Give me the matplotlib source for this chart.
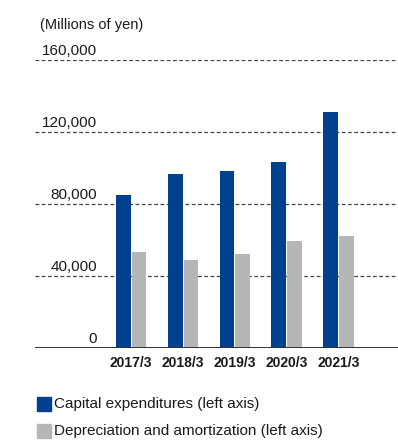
import matplotlib
matplotlib.use("Agg")
import matplotlib.pyplot as plt
from matplotlib.patches import Rectangle

plt.rcParams['font.family'] = ['Liberation Sans', 'DejaVu Sans']

years = ["2017/3", "2018/3", "2019/3", "2020/3", "2021/3"]
capex = [85000, 96700, 98300, 103300, 131100]
depreciation = [53300, 48900, 52200, 59400, 62200]
y_ticks = [0, 40000, 80000, 120000, 160000]
y_tick_labels = ["0", "40,000", "80,000", "120,000", "160,000"]
series_names = ["Capital expenditures (left axis)", "Depreciation and amortization (left axis)"]

BLUE = "#00418F"
GREY = "#B5B6B6"
TEXT = "#1a1a1a"

W, H = 398, 440
fig = plt.figure(figsize=(W / 100, H / 100), dpi=100)

def fx(px):
    return px / W

def fy(py):
    return 1 - py / H

ax_left, ax_right, ax_bottom, ax_top = 35, 398, 348, 60
ax = fig.add_axes([fx(ax_left), fy(ax_bottom), fx(ax_right - ax_left), (ax_bottom - ax_top) / H])

xs = list(range(len(years)))
bw = 0.285
off = 0.152
ax.bar([x - off for x in xs], capex, width=bw, color=BLUE, zorder=3)
ax.bar([x + off for x in xs], depreciation, width=bw, color=GREY, zorder=3)

ax.set_xlim(-1.857, 5.15)
ax.set_ylim(0, 160000)

# dashed gridlines with labels sitting above them
for v, lab in zip(y_ticks, y_tick_labels):
    if v > 0:
        ax.axhline(v, color="#444444", lw=0.9, ls=(0, (3, 2)), zorder=1)
    ax.annotate(lab, xy=(0, v), xycoords=("axes fraction", "data"),
                xytext=(62, 2), textcoords="offset pixels",
                ha="right", va="bottom", fontsize=11, color=TEXT)
ax.axhline(0, color="#333333", lw=1.4, zorder=4)

for s in ax.spines.values():
    s.set_visible(False)
ax.set_yticks([])
ax.set_xticks(xs)
ax.set_xticklabels(years, fontsize=10, color=TEXT, fontweight="bold",
                   family=['Liberation Sans Narrow', 'Liberation Sans', 'DejaVu Sans'])
ax.tick_params(axis="x", length=0, pad=6)

# unit label
fig.text(fx(40), fy(25), "(Millions of yen)", fontsize=10.5, color=TEXT, va="center", ha="left")

# legend
for i, (name, col) in enumerate(zip(series_names, [BLUE, GREY])):
    top = 397 + i * 27
    fig.patches.append(Rectangle((fx(37), fy(top + 13.5)), fx(14), 13.5 / H,
                                 transform=fig.transFigure, color=col))
    fig.text(fx(54), fy(top + 7), name, fontsize=11, color=TEXT, va="center", ha="left")

fig.savefig("out.png", dpi=100)
